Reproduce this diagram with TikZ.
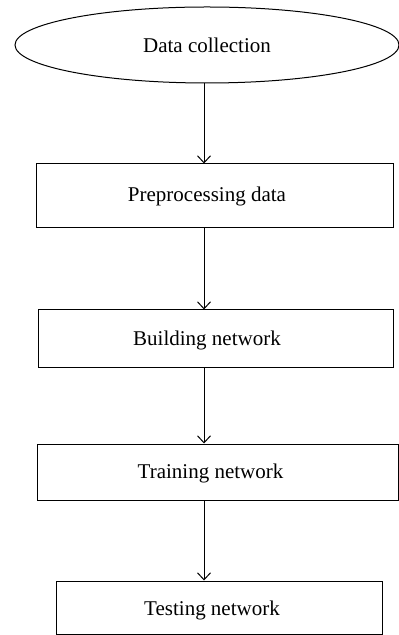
\documentclass[tikz,border=0pt]{standalone}
\usepackage{fontspec}
\setmainfont{Liberation Serif}
\usetikzlibrary{shapes.geometric,arrows.meta}

\begin{document}
\begin{tikzpicture}[x=.5pt,y=-.5pt,
    font=\fontsize{10.5}{12.5}\selectfont,
    stage/.style={draw, rectangle, inner sep=0pt, line width=.5pt},
    flow/.style={line width=.5pt, -{Straight Barb[length=3.5pt,width=6.5pt]}}]
      \useasboundingbox (0,0) rectangle (399,635);

      % start
      \node (dc) at (207,45) [draw, ellipse, inner sep=0pt, line width=.5pt,
        minimum width=192pt, minimum height=38pt] {};
      \node (dctxt) at (207,45) {Data collection};

      % steps
      \node (pre) at (214.5,196) [stage, minimum width=178.5pt, minimum height=32pt] {};
      \node (pretxt) at (207,196) {Preprocessing data};

      \node (build) at (215.5,338.5) [stage, minimum width=177.5pt, minimum height=28.5pt] {};
      \node (buildtxt) at (207,340) {Building network};

      \node (train) at (217.5,472) [stage, minimum width=180.5pt, minimum height=28pt] {};
      \node (traintxt) at (210.5,473) {Training network};

      \node (test) at (219,607.5) [stage, minimum width=163pt, minimum height=26.5pt] {};
      \node (testtxt) at (212,610) {Testing network};

      \coordinate (spine) at (204,0);

      \draw[flow] (dc.south -| spine) -- (pre.north -| spine);
      \draw[flow] (pre.south -| spine) -- (build.north -| spine);
      \draw[flow] (build.south -| spine) -- (train.north -| spine);
      \draw[flow] (train.south -| spine) -- (test.north -| spine);
\end{tikzpicture}
\end{document}
